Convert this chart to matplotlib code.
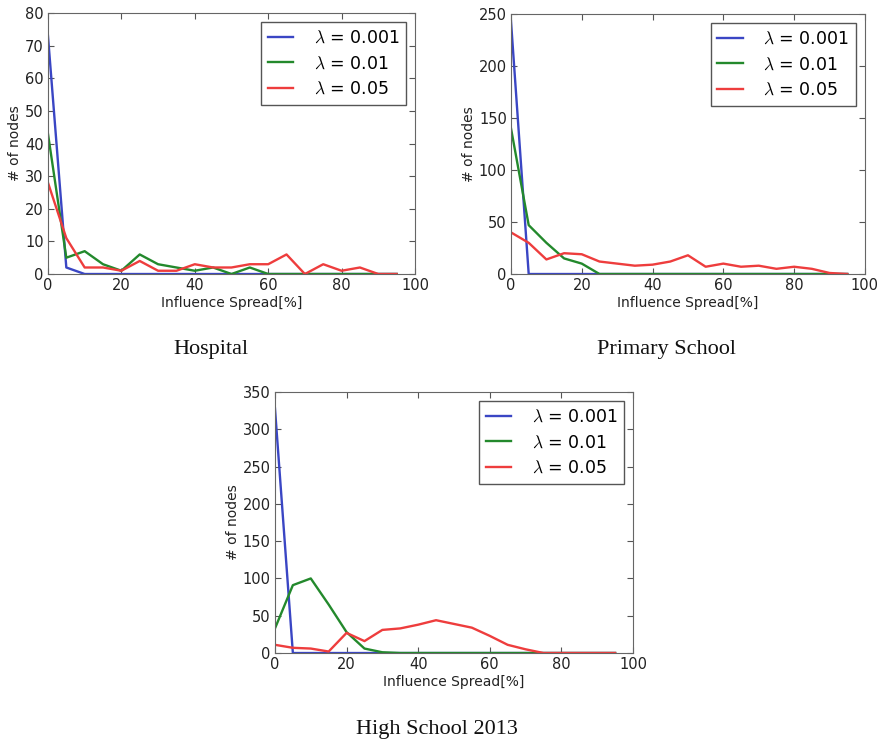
import numpy as np
import matplotlib
matplotlib.use("Agg")
import matplotlib.pyplot as plt

plt.rcParams['font.family'] = ['DejaVu Sans']
plt.rcParams['mathtext.fontset'] = 'cm'

spread = np.arange(0, 100, 5)  # influence spread bins [%]
lambdas = ["0.001", "0.01", "0.05"]

# number of nodes per spread bin, one list per lambda
hospital_001 = [73, 2, 0, 0, 0, 0, 0, 0, 0, 0, 0, 0, 0, 0, 0, 0, 0, 0, 0, 0]
hospital_01 = [43, 5, 7, 3, 1, 6, 3, 2, 1, 2, 0, 2, 0, 0, 0, 0, 0, 0, 0, 0]
hospital_05 = [28, 11, 2, 2, 1, 4, 1, 1, 3, 2, 2, 3, 3, 6, 0, 3, 1, 2, 0, 0]

primary_001 = [243, 0, 0, 0, 0, 0, 0, 0, 0, 0, 0, 0, 0, 0, 0, 0, 0, 0, 0, 0]
primary_01 = [140, 47, 30, 15, 10, 0, 0, 0, 0, 0, 0, 0, 0, 0, 0, 0, 0, 0, 0, 0]
primary_05 = [40, 30, 14, 20, 19, 12, 10, 8, 9, 12, 18, 7, 10, 7, 8, 5, 7, 5, 1, 0]

high_001 = [328, 0, 0, 0, 0, 0, 0, 0, 0, 0, 0, 0, 0, 0, 0, 0, 0, 0, 0, 0]
high_01 = [33, 91, 100, 65, 28, 6, 1, 0, 0, 0, 0, 0, 0, 0, 0, 0, 0, 0, 0, 0]
high_05 = [11, 7, 6, 2, 27, 16, 31, 33, 38, 44, 39, 34, 23, 11, 5, 0, 0, 0, 0, 0]

colors = ['#3a46c4', '#23892c', '#ee3d3d']

fig = plt.figure(figsize=(8.85, 7.43), dpi=100)

panels = [
    ([0.0542, 0.6312, 0.4147, 0.3513], [hospital_001, hospital_01, hospital_05], 80, 10, "Hospital", (0.238, 0.529)),
    ([0.5774, 0.6312, 0.3999, 0.3500], [primary_001, primary_01, primary_05], 250, 50, "Primary School", (0.753, 0.529)),
    ([0.3107, 0.1211, 0.4045, 0.3513], [high_001, high_01, high_05], 350, 50, "High School 2013", (0.494, 0.0175)),
]

for rect, series, ymax, ystep, caption, cpos in panels:
    ax = fig.add_axes(rect)
    for ys, lam, c in zip(series, lambdas, colors):
        ax.plot(spread, ys, color=c, lw=1.7, label=r"$\lambda$ = " + lam)
    ax.set_xlim(0, 100)
    ax.set_ylim(0, ymax)
    ax.set_xticks(np.arange(0, 101, 20))
    ax.set_yticks(np.arange(0, ymax + 1, ystep))
    ax.tick_params(direction='in', top=True, right=True, labelsize=10.5,
                   colors='#555555', labelcolor='#222222', length=4, pad=3)
    for sp in ax.spines.values():
        sp.set_color('#666666')
    ax.set_xlabel("Influence Spread[%]", fontsize=10, color='#222222', labelpad=2)
    ax.set_ylabel("# of nodes", fontsize=10, color='#222222', labelpad=2)
    leg = ax.legend(loc='upper right', fontsize=12.5, fancybox=False, framealpha=1,
                    handlelength=1.45, handletextpad=1.2, borderpad=0.4,
                    labelspacing=0.45, borderaxespad=0.5)
    leg.get_frame().set_edgecolor('#555555')
    leg.get_frame().set_linewidth(1.0)
    fig.text(cpos[0], cpos[1], caption, ha='center', va='center',
             family='Liberation Serif', fontsize=16, color='#111111')

fig.savefig("out.png", dpi=100)
